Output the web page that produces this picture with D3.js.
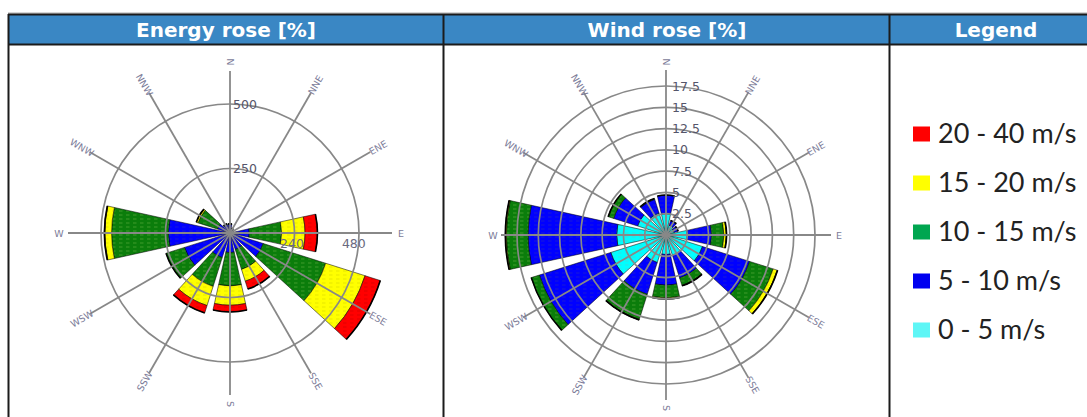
<!DOCTYPE html>
<html>
<head>
<meta charset="utf-8">
<script src="https://cdn.jsdelivr.net/npm/d3@7"></script>
<style>
  body { margin: 0; background: #fff; }
  svg { display: block; }
</style>
</head>
<body>
<div class="js-roses"></div>
<script>
// sectors and speed classes
let directions = ["N", "NNE", "ENE", "E", "ESE", "SSE", "S", "SSW", "WSW", "W", "WNW", "NNW"];
let bands = ["0 - 5 m/s", "5 - 10 m/s", "10 - 15 m/s", "15 - 20 m/s", "20 - 40 m/s"];
let barColors = ["#00ffff", "#0000ff", "#0b7d0b", "#ffff00", "#ff0000"];
let dashColors = ["#33e0e0", "#1a1ad8", "#3f9a2a", "#e8e800", "#e00000"];
let legendColors = ["#5ef6f6", "#0000f0", "#00a650", "#ffff00", "#ff0000"];
let titles = ["Energy rose [%]", "Wind rose [%]", "Legend"];

// energy rose, one value per sector for each speed class
let energy0to5   = [2, 1, 1, 2, 2, 2, 2, 2, 3, 4, 2, 2];
let energy5to10  = [32, 17, 13, 73, 133, 65, 74, 98, 182, 235, 49, 33];
let energy10to15 = [2, 1, 0, 125, 254, 81, 129, 117, 75, 220, 79, 3];
let energy15to20 = [0, 0, 0, 91, 160, 48, 75, 78, 0, 26, 7, 0];
let energy20to40 = [0, 0, 0, 48, 62, 32, 26, 30, 0, 2, 0, 0];
let energyRings = [250, 500];
let energyAxisTicks = [240, 480];

// wind rose (frequency %)
let wind0to5   = [2.5, 1.2, 1.0, 2.5, 4.5, 2.5, 2.3, 3.4, 6.8, 5.8, 3.5, 2.7];
let wind5to10  = [2.2, 0.6, 0.5, 2.85, 5.8, 2.8, 3.6, 3.9, 8.8, 10.4, 2.95, 1.7];
let wind10to15 = [0, 0, 0, 1.45, 2.9, 0.9, 1.5, 3.1, 1.0, 2.55, 0.65, 0.1];
let wind15to20 = [0, 0, 0, 0.3, 0.5, 0.05, 0.1, 0.05, 0, 0.1, 0.03, 0];
let wind20to40 = [0, 0, 0, 0.02, 0.05, 0.01, 0.02, 0.01, 0, 0.02, 0, 0];
let windRings = [2.5, 5, 7.5, 10, 12.5, 15, 17.5];

let width = 1087, height = 417;
let svg = d3.select(".js-roses").append("svg")
    .attr("width", width)
    .attr("height", height);

// little dash texture inside the bars
let defs = svg.append("defs");
let pat = defs.selectAll("pattern")
    .data(barColors)
    .join("pattern")
    .attr("id", (d, i) => "tex" + i)
    .attr("patternUnits", "userSpaceOnUse")
    .attr("width", 7).attr("height", 4);
pat.append("rect").attr("width", 7).attr("height", 4).attr("fill", d => d);
pat.append("rect").attr("x", 1).attr("y", 1.5).attr("width", 3.5).attr("height", 1)
    .attr("fill", (d, i) => dashColors[i]);

// header bar + frame
svg.append("rect")
    .attr("x", 8.5).attr("y", 14.5)
    .attr("width", width).attr("height", 30)
    .attr("fill", "#3a87c4");
svg.append("line").attr("x1", 8).attr("x2", width).attr("y1", 13).attr("y2", 13)
    .attr("stroke", "#aaa").attr("stroke-width", 1);
[14.5, 44.5].forEach(y => {
    svg.append("line").attr("x1", 8).attr("x2", width).attr("y1", y).attr("y2", y)
        .attr("stroke", "#1b1b1b").attr("stroke-width", 2);
});
[8.5, 443.5, 889.5].forEach(x => {
    svg.append("line").attr("x1", x).attr("x2", x).attr("y1", 14).attr("y2", height)
        .attr("stroke", "#1b1b1b").attr("stroke-width", 2);
});

let titleX = [226, 667, 996];
svg.selectAll("text.title")
    .data(titles)
    .join("text")
    .attr("class", "title")
    .attr("x", (d, i) => titleX[i])
    .attr("y", 37)
    .attr("text-anchor", "middle")
    .attr("font-family", "DejaVu Sans")
    .attr("font-weight", "bold")
    .attr("font-size", 20)
    .attr("fill", "#fff")
    .text(d => d);

// sector angles: 30 degree steps, bar ~25 degrees wide
let step = 2 * Math.PI / directions.length;
let angle = d3.scaleBand()
    .domain(directions)
    .range([-step / 2, 2 * Math.PI - step / 2])
    .paddingInner(0.17)
    .paddingOuter(0.085);
let mid = d => angle(d) + angle.bandwidth() / 2;

function drawRose(cx, cy, series, rScale, rings, opts) {
    let table = directions.map((dir, i) => {
        let row = {dir: dir};
        bands.forEach((b, j) => row[b] = series[j][i]);
        return row;
    });
    let stacked = d3.stack().keys(bands)(table);

    let g = svg.append("g").attr("transform", "translate(" + cx + "," + cy + ")");

    let arc = d3.arc()
        .innerRadius(d => rScale(d[0]))
        .outerRadius(d => rScale(d[1]))
        .startAngle(d => angle(d.data.dir))
        .endAngle(d => angle(d.data.dir) + angle.bandwidth());

    g.selectAll("g.layer")
        .data(stacked)
        .join("g")
        .attr("class", "layer")
        .attr("fill", (d, i) => "url(#tex" + i + ")")
        .selectAll("path")
        .data(d => d.filter(s => s[1] > s[0]))
        .join("path")
        .attr("d", arc)
        .attr("stroke", "#000")
        .attr("stroke-opacity", 0.75)
        .attr("stroke-width", 0.7);

    // outer edge of every bar
    let totals = stacked[stacked.length - 1];
    let edge = d3.arc()
        .innerRadius(d => rScale(d[1]))
        .outerRadius(d => rScale(d[1]))
        .startAngle(d => angle(d.data.dir))
        .endAngle(d => angle(d.data.dir) + angle.bandwidth());
    g.selectAll("path.edge")
        .data(totals)
        .join("path")
        .attr("class", "edge")
        .attr("d", edge)
        .attr("fill", "none")
        .attr("stroke", "#000")
        .attr("stroke-width", 1.6);

    // grid on top of the bars
    g.selectAll("circle.ring")
        .data(rings)
        .join("circle")
        .attr("class", "ring")
        .attr("r", d => rScale(d))
        .attr("fill", "none")
        .attr("stroke", "#888")
        .attr("stroke-width", 1.7);

    g.selectAll("line.spoke")
        .data(directions)
        .join("line")
        .attr("class", "spoke")
        .attr("x1", 0).attr("y1", 0)
        .attr("x2", d => Math.sin(mid(d)) * opts.axisLen)
        .attr("y2", d => -Math.cos(mid(d)) * opts.axisLen)
        .attr("stroke", "#888")
        .attr("stroke-width", 1.8);

    g.selectAll("text.dir")
        .data(directions)
        .join("text")
        .attr("class", "dir")
        .attr("transform", d => {
            let a = mid(d), deg = a * 180 / Math.PI;
            let rot = deg <= 180 ? deg - 90 : deg - 270;
            return "translate(" + (Math.sin(a) * opts.labelR) + "," + (-Math.cos(a) * opts.labelR) + ") rotate(" + rot + ")";
        })
        .attr("text-anchor", "middle")
        .attr("dominant-baseline", "central")
        .attr("font-family", "DejaVu Sans")
        .attr("font-size", 9.5)
        .attr("fill", "#7b7b98")
        .text(d => d);

    g.selectAll("text.ring")
        .data(rings)
        .join("text")
        .attr("class", "ring")
        .attr("x", opts.ringDx)
        .attr("y", d => -rScale(d))
        .attr("dominant-baseline", "central")
        .attr("font-family", "DejaVu Sans")
        .attr("font-size", 12.5)
        .attr("fill", "#55556a")
        .text(d => d);

    return g;
}

let energyR = d3.scaleLinear().domain([0, 500]).range([0, 129]);
let eg = drawRose(230, 233,
    [energy0to5, energy5to10, energy10to15, energy15to20, energy20to40],
    energyR, energyRings, {axisLen: 162, labelR: 171, ringDx: 3});

eg.selectAll("text.axis")
    .data(energyAxisTicks)
    .join("text")
    .attr("class", "axis")
    .attr("x", d => energyR(d))
    .attr("y", 10)
    .attr("text-anchor", "middle")
    .attr("dominant-baseline", "central")
    .attr("font-family", "DejaVu Sans")
    .attr("font-size", 12.5)
    .attr("fill", "#6a6a80")
    .text(d => d);

let windR = d3.scaleLinear().domain([0, 17.5]).range([0, 149]);
drawRose(666, 235,
    [wind0to5, wind5to10, wind10to15, wind15to20, wind20to40],
    windR, windRings, {axisLen: 165, labelR: 173, ringDx: 6});

// legend, highest class first
let legendOrder = d3.range(bands.length).reverse();
let legendY = d3.scalePoint().domain(legendOrder).range([134, 330]);
let items = svg.selectAll("g.item")
    .data(legendOrder)
    .join("g")
    .attr("class", "item")
    .attr("transform", d => "translate(913," + legendY(d) + ")");
items.append("rect")
    .attr("x", 0).attr("y", -7.5)
    .attr("width", 17).attr("height", 15)
    .attr("fill", d => legendColors[d]);
items.append("text")
    .attr("x", 25).attr("y", 9)
    .attr("font-family", "Lato")
    .attr("font-size", 27)
    .attr("fill", "#222")
    .text(d => bands[d]);
</script>
</body>
</html>
